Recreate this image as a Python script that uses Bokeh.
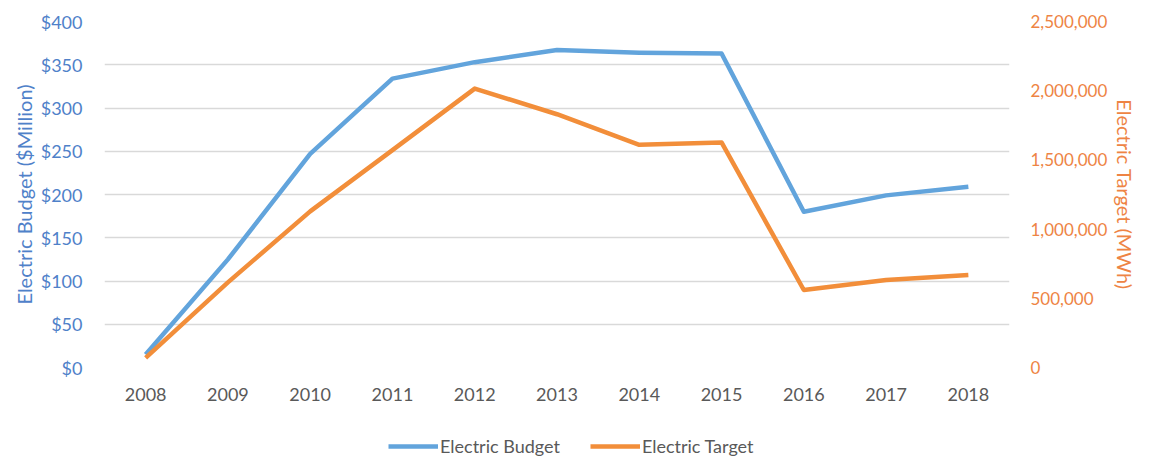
import numpy as np
from bokeh.plotting import figure
from bokeh.layouts import column
from bokeh.models import Range1d, LinearAxis, Legend, LegendItem, NumeralTickFormatter, FixedTicker, ColumnDataSource, Title
from bokeh.embed import file_html
from bokeh.resources import INLINE

years = ["2008", "2009", "2010", "2011", "2012", "2013", "2014", "2015", "2016", "2017", "2018"]
budget = [15, 125, 247, 334, 353, 367, 364, 363, 180, 199, 209]
target = [70000, 615000, 1128000, 1571000, 2015000, 1830000, 1609000, 1626000, 560000, 633000, 669000]
budget_ticks = [0, 50, 100, 150, 200, 250, 300, 350, 400]
target_ticks = [0, 500000, 1000000, 1500000, 2000000, 2500000]
series_names = ["Electric Budget", "Electric Target"]

FONT = "Lato"
BLUE = "#62A4DC"
ORANGE = "#F28E3A"
W = 1145

src = ColumnDataSource(dict(year=years, budget=budget, target=target))

p = figure(x_range=years, y_range=Range1d(0, 400), width=W, height=412,
           output_backend="svg", toolbar_location=None,
           min_border_left=104, min_border_right=136, min_border_top=21, min_border_bottom=45)
p.extra_y_ranges = {"t": Range1d(0, 2500000)}
p.outline_line_color = None

# grid
p.xgrid.grid_line_color = None
p.ygrid.grid_line_color = "#D9D9D9"
p.ygrid.grid_line_width = 1.5

def plain(ax):
    ax.axis_line_color = None
    ax.major_tick_line_color = None
    ax.minor_tick_line_color = None
    ax.major_tick_out = 0
    ax.major_tick_in = 0
    ax.minor_tick_out = 0

# left axis
ya = p.yaxis[0]
ya.ticker = FixedTicker(ticks=budget_ticks)
ya.formatter = NumeralTickFormatter(format="$0")
ya.axis_label = "Electric Budget ($Million)"
ya.axis_label_text_font = FONT
ya.axis_label_text_font_style = "normal"
ya.axis_label_text_font_size = "20px"
ya.axis_label_text_color = "#4F81C9"
ya.axis_label_standoff = 2
ya.major_label_text_font = FONT
ya.major_label_text_font_size = "18px"
ya.major_label_text_color = "#4F81C9"
ya.major_label_standoff = 22
plain(ya)

# right axis (title added separately)
ra = LinearAxis(y_range_name="t")
ra.ticker = FixedTicker(ticks=target_ticks)
ra.formatter = NumeralTickFormatter(format="0,0")
ra.major_label_text_font = FONT
ra.major_label_text_font_size = "17px"
ra.major_label_text_color = "#EE8444"
ra.major_label_standoff = 21
plain(ra)
p.add_layout(ra, "right")
p.add_layout(Title(text="Electric Target (MWh)", align="center", vertical_align="top",
                   text_font=FONT, text_font_style="normal", text_font_size="20px",
                   text_color="#EE8444", standoff=1), "right")

# x axis
xa = p.xaxis[0]
xa.major_label_text_font = FONT
xa.major_label_text_font_size = "18px"
xa.major_label_text_color = "#595959"
xa.major_label_standoff = 20
plain(xa)

p.line("year", "budget", source=src, line_color=BLUE, line_width=4.5, line_join="round")
p.line("year", "target", source=src, y_range_name="t", line_color=ORANGE, line_width=4.5, line_join="round")

# legend strip below the chart (frame aligned with the chart's frame)
lg = figure(width=W, height=46, x_range=Range1d(0, 1), y_range=Range1d(0, 1),
            output_backend="svg", toolbar_location=None, x_axis_type=None, y_axis_type=None,
            min_border_left=0, min_border_right=0, min_border_top=0, min_border_bottom=0)
lg.outline_line_color = None
lg.xgrid.visible = False
lg.ygrid.visible = False
k1 = lg.line(x=np.array([np.nan]), y=np.array([np.nan]), line_color=BLUE, line_width=4.5)
k2 = lg.line(x=np.array([np.nan]), y=np.array([np.nan]), line_color=ORANGE, line_width=4.5)

legend = Legend(items=[LegendItem(label=series_names[0], renderers=[k1]),
                       LegendItem(label=series_names[1], renderers=[k2])],
                orientation="horizontal", location=(284, 1),
                glyph_width=50, glyph_height=20, label_height=20, label_standoff=2,
                spacing=30, padding=0, margin=0,
                border_line_color=None, background_fill_alpha=0,
                label_text_font=FONT, label_text_font_size="18px", label_text_color="#595959")
lg.add_layout(legend, "center")

open("out.html", "w").write(file_html(column(p, lg), INLINE))
